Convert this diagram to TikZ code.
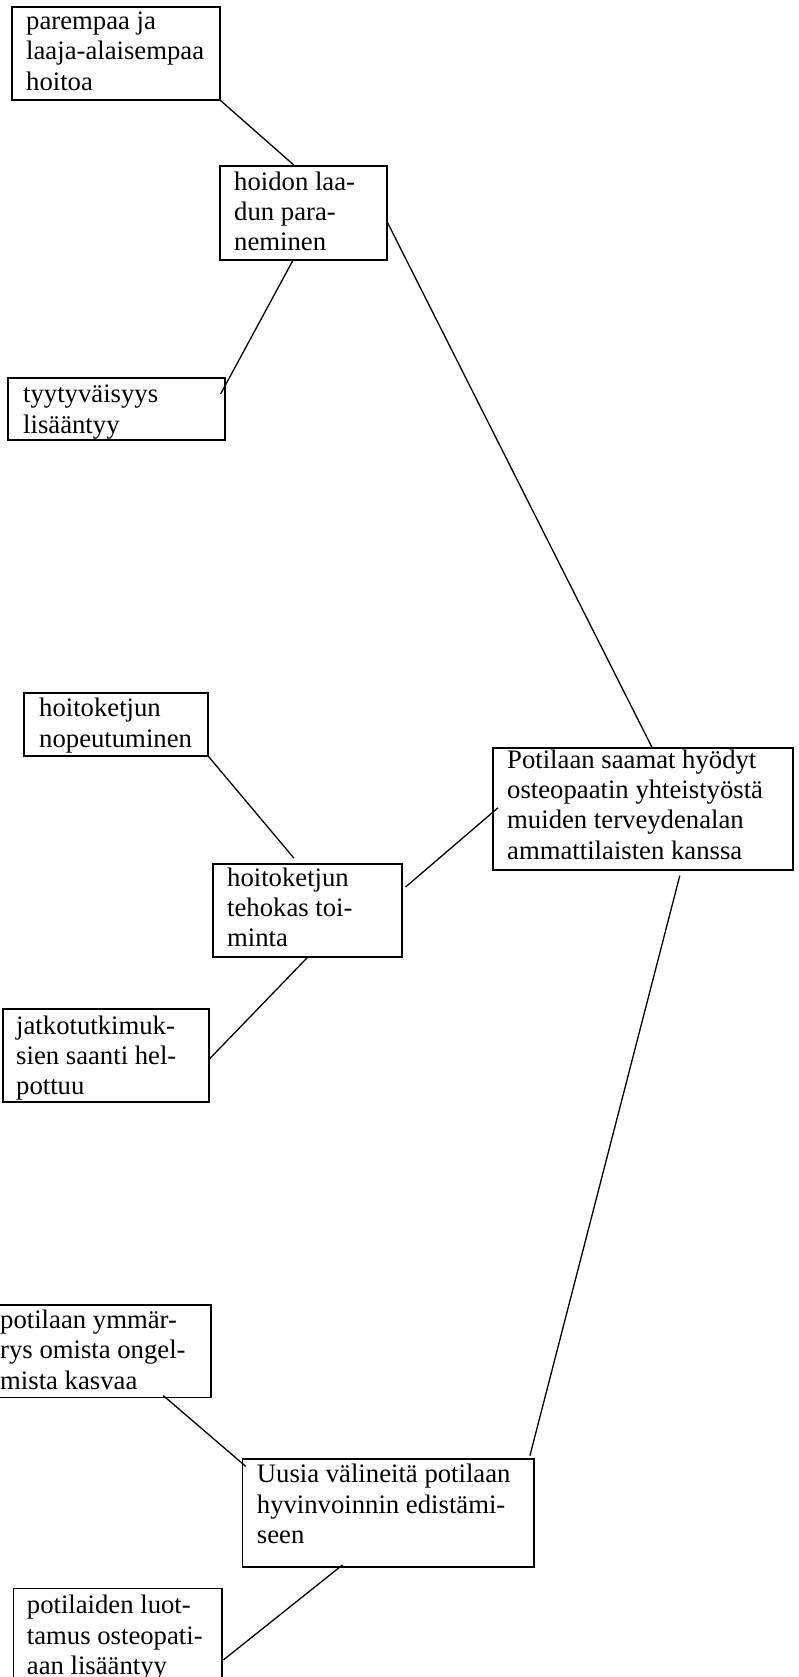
\documentclass[tikz,border=0pt]{standalone}
\usepackage{fontspec}
\setmainfont{Liberation Serif}
\usetikzlibrary{calc}
\begin{document}
\begin{tikzpicture}[x=1pt,y=-1pt,
  box/.style 2 args={draw, line width=1.6pt, anchor=north west, inner sep=0pt, minimum width=#1pt, minimum height=#2pt},
  txt/.style={anchor=north west, inner sep=0pt, align=left, font=\fontsize{26.7}{30.4}\selectfont},
  link/.style={line width=1.3pt}]
\useasboundingbox (0,0) rectangle (799,1677);
% boxes
\node[box={208}{93}] (A) at (11,6) {};
\node[box={167}{94}] (B) at (219,165) {};
\node[box={217}{62}] (C) at (7,377) {};
\node[box={184}{63}] (D) at (23,692) {};
\node[box={189}{93}] (E) at (212,863) {};
\node[box={206}{93}] (F) at (2,1008) {};
\node[box={300}{122}] (G) at (492,747) {};
\node[box={224.5}{92.7}] (I) at (-14.5,1304) {};
\node[box={291.6}{107.7}] (H) at (241.7,1458.3) {};
\node[box={208.3}{100}] (J) at (12.7,1587.7) {};
% texts
\node[txt] (At) at ($(A.north west)+(15,2)$) {\strut parempaa ja\\laaja-alaisempaa\\hoitoa};
\node[txt] (Bt) at ($(B.north west)+(15,3.6)$) {\strut hoidon laa-\\dun para-\\neminen};
\node[txt] (Ct) at ($(C.north west)+(16,4.3)$) {\strut tyytyväisyys\\lisääntyy};
\node[txt] (Dt) at ($(D.north west)+(16,3.3)$) {\strut hoitoketjun\\nopeutuminen};
\node[txt] (Et) at ($(E.north west)+(15,1.6)$) {\strut hoitoketjun\\tehokas toi-\\minta};
\node[txt] (Ft) at ($(F.north west)+(14,4.6)$) {\strut jatkotutkimuk-\\sien saanti hel-\\pottuu};
\node[txt] (Gt) at ($(G.north west)+(15,-0.3)$) {\strut Potilaan saamat hyödyt\\osteopaatin yhteistyöstä\\muiden terveydenalan\\ammattilaisten kanssa};
\node[txt] (It) at ($(I.north west)+(14.5,3.0)$) {\strut potilaan ymmär-\\rys omista ongel-\\mista kasvaa};
\node[txt] (Ht) at ($(H.north west)+(15,3.0)$) {\strut Uusia välineitä potilaan\\hyvinvoinnin edistämi-\\seen};
\node[txt] (Jt) at ($(J.north west)+(14,4.4)$) {\strut potilaiden luot-\\tamus osteopati-\\aan lisääntyy};
% connectors
\draw[link] (A.south east) -- ($(B.north)+(-9.5,0)$);
\draw[link] ($(B.south)+(-10.5,0)$) -- ($(C.north east)+(-5,17)$);
\draw[link] ($(B.east)+(-1,8)$) -- ($(G.north)+(9,0)$);
\draw[link] (D.south east) -- ($(E.north)+(-13.5,-5)$);
\draw[link] (E.south) -- ($(F.east)+(0,3.5)$);
\draw[link] ($(E.north east)+(3,24)$) -- ($(G.west)+(6,-1)$);
\draw[link] ($(G.south)+(37,5)$) -- ($(H.north east)+(-5,-2.6)$);
\draw[link] ($(I.south east)+(-48.3,-2.7)$) -- ($(H.north west)+(4,8)$);
\draw[link] ($(H.south)+(-45.8,-2.7)$) -- ($(J.north east)+(0.7,72.3)$);
\end{tikzpicture}
\end{document}
